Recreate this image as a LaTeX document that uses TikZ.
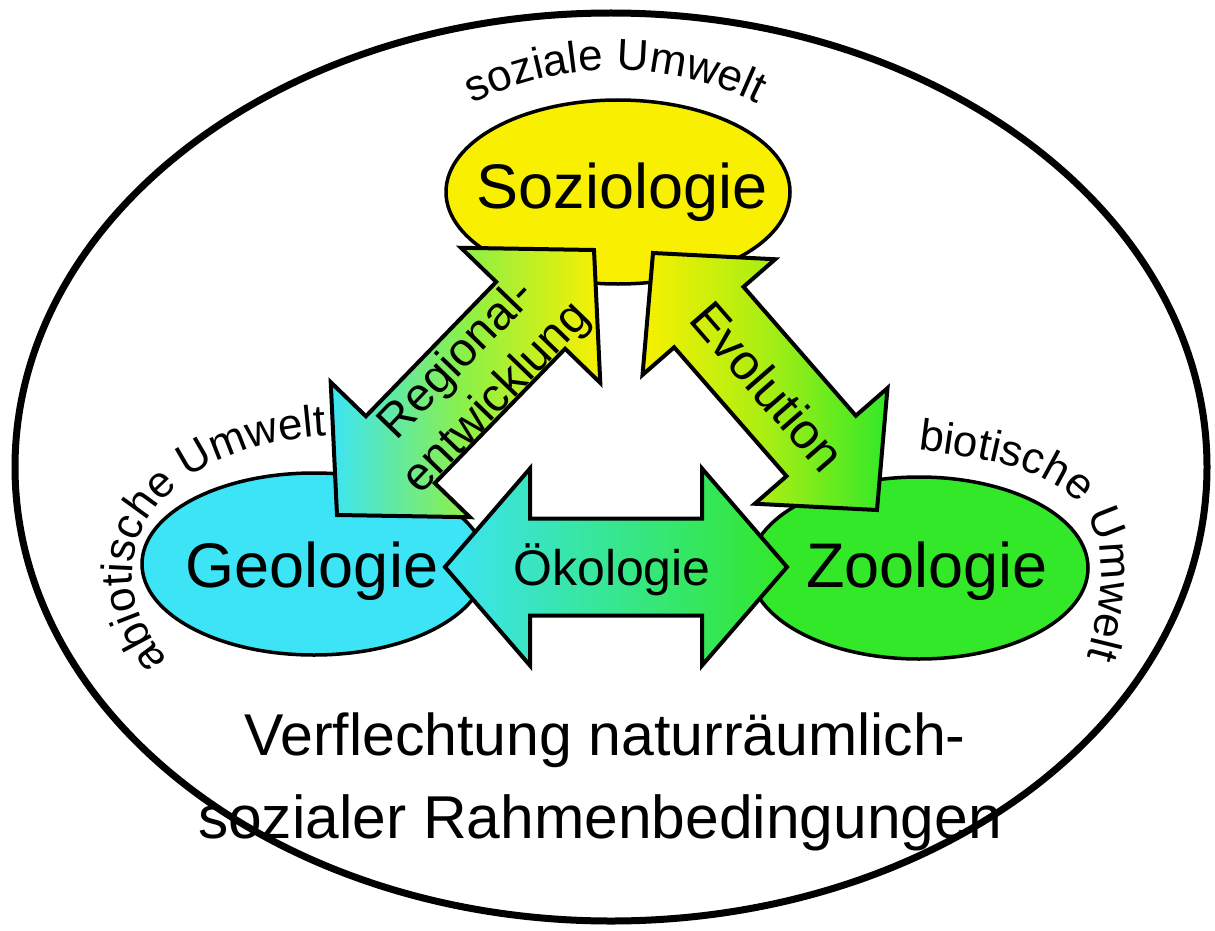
\documentclass[tikz,border=0pt]{standalone}
\usepackage{fontspec}
\setmainfont{Liberation Sans}
\usetikzlibrary{shapes.geometric,calc,decorations.text}
\definecolor{sozyellow}{RGB}{248,240,0}
\definecolor{geocyan}{RGB}{60,228,245}
\definecolor{zoogreen}{RGB}{50,232,40}
\definecolor{regmid}{RGB}{140,240,70}
\definecolor{evomid}{RGB}{170,238,20}
\newcommand\curvedfont{\fontsize{44}{48}\selectfont}
% double block arrow between two named tips
\newcommand\blockarrow[6]{%
  \coordinate (#1-h) at ($(#1)!#5!(#2)$);
  \coordinate (#2-h) at ($(#2)!#5!(#1)$);
  \draw[#6] (#1) -- ($(#1-h)!#4!90:(#2)$) -- ($(#1-h)!#3!90:(#2)$)
    -- ($(#2-h)!#3!-90:(#1)$) -- ($(#2-h)!#4!-90:(#1)$) -- (#2)
    -- ($(#2-h)!#4!90:(#1)$) -- ($(#2-h)!#3!90:(#1)$)
    -- ($(#1-h)!#3!-90:(#2)$) -- ($(#1-h)!#4!-90:(#2)$) -- cycle;
}
\begin{document}
\begin{tikzpicture}[x=1pt,y=-1pt,
  blob/.style={ellipse, draw=black, line width=3.5pt, inner sep=0pt},
  bigname/.style={font=\fontsize{63}{70}\selectfont, anchor=base, inner sep=0pt},
  arrowname/.style={font=\fontsize{50}{56}\selectfont, inner sep=0pt},
  barrow/.style={draw=black, line width=4pt, line join=miter},
  bottomtext/.style={anchor=base, inner sep=0pt}]
\fill[white] (0,0) rectangle (1215,931);
\useasboundingbox (0,0) rectangle (1215,931);

% outer frame
\node[draw, ellipse, line width=7pt, minimum width=1192pt, minimum height=908pt, inner sep=0pt] (frame) at (611,467) {};

% curved labels
\path[decorate, decoration={text along path, text align=center,
  text={|\curvedfont|soziale Umwelt}}]
  (615,388) ++(225:318) arc[start angle=225, end angle=315, radius=318];
\path[decorate, decoration={text along path, text align=left,
  text={|\curvedfont|abiotische Umwelt}}]
  (168,660) .. controls (78,552) and (168,446) .. (322,436) -- (390,432);
\path[decorate, decoration={text along path, text align=left,
  text={|\curvedfont|biotische Umwelt}}]
  (918,450) .. controls (1070,468) and (1135,498) .. (1084,668) -- (1074,720);

% bottom text
\node[bottomtext, font=\fontsize{59}{62}\selectfont] (bt1) at (605,755) {Verflechtung naturräumlich-};
\node[bottomtext, font=\fontsize{60.5}{64}\selectfont] (bt2) at (600,838) {sozialer Rahmenbedingungen};

% fields
\node[blob, fill=sozyellow, minimum width=344pt, minimum height=184pt] (soz) at (618,192) {};
\node[blob, fill=geocyan, minimum width=344pt, minimum height=182pt] (geo) at (314,564) {};
\node[blob, fill=zoogreen, minimum width=338pt, minimum height=182pt] (zoo) at (919,568) {};

% arrow tips
\coordinate (regA) at (337,515);
\coordinate (regB) at (594,250);
\coordinate (evoA) at (653,253);
\coordinate (evoB) at (877,510);
\coordinate (okoA) at (445,567);
\coordinate (okoB) at (787,567);

\blockarrow{regA}{regB}{48pt}{97pt}{91pt}{barrow, left color=geocyan, right color=sozyellow, middle color=regmid}
\blockarrow{evoA}{evoB}{46pt}{88pt}{85pt}{barrow, left color=sozyellow, right color=zoogreen, middle color=evomid}
\blockarrow{okoA}{okoB}{48.5pt}{98.5pt}{85pt}{barrow, left color=geocyan, right color=zoogreen}

% field names
\node[bigname] (sozT) at (622,208) {Soziologie};
\node[bigname] (geoT) at (312,587) {Geologie};
\node[bigname] (zooT) at (927,587) {Zoologie};

% arrow names
\node[arrowname, font=\fontsize{47}{55}\selectfont, align=center, rotate=46] (regT)
  at ($(regA)!0.5!(regB)+(12,-3)$) {Regional-\\entwicklung};
\node[arrowname, rotate=-49] (evoT) at ($(evoA)!0.5!(evoB)+(3,5)$) {Evolution};
\node[arrowname, anchor=base] (okoT) at (612,585) {Ökologie};
\end{tikzpicture}
\end{document}
